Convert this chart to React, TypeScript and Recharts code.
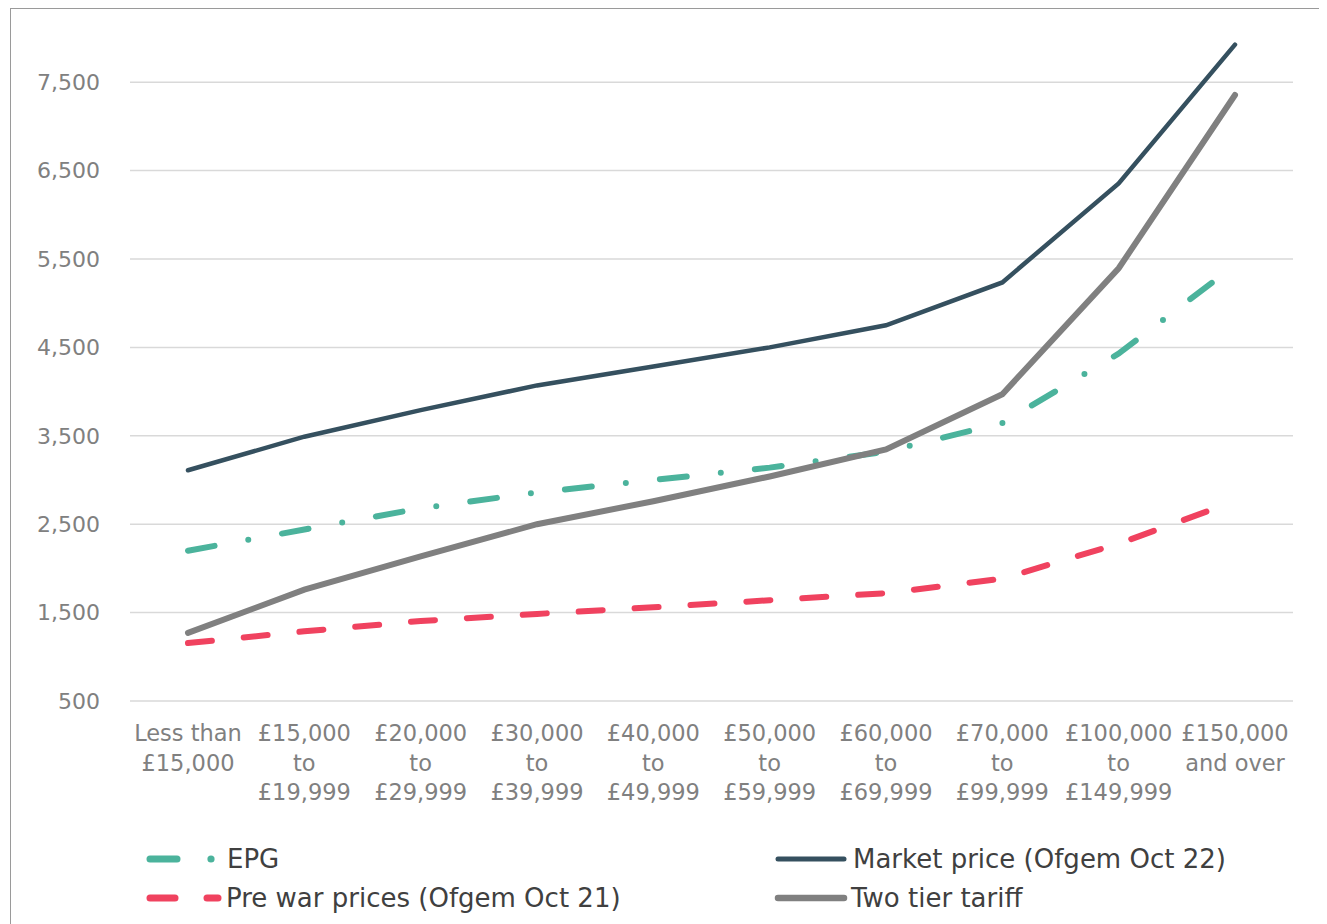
import { LineChart, Line, XAxis, YAxis, CartesianGrid } from 'recharts';

const categories = [
  'Less than\n£15,000',
  '£15,000\nto\n£19,999',
  '£20,000\nto\n£29,999',
  '£30,000\nto\n£39,999',
  '£40,000\nto\n£49,999',
  '£50,000\nto\n£59,999',
  '£60,000\nto\n£69,999',
  '£70,000\nto\n£99,999',
  '£100,000\nto\n£149,999',
  '£150,000\nand over',
];

const epg = [2200, 2440, 2680, 2860, 3000, 3140, 3320, 3645, 4430, 5430];
const marketPrice = [3110, 3490, 3790, 4070, 4285, 4500, 4750, 5235, 6355, 7925];
const preWar = [1155, 1288, 1405, 1485, 1560, 1640, 1720, 1884, 2280, 2760];
const twoTier = [1270, 1760, 2135, 2500, 2760, 3040, 3345, 3970, 5395, 7355];

const yTicks = [500, 1500, 2500, 3500, 4500, 5500, 6500, 7500];

const FONT = '"DejaVu Sans", sans-serif';
const TEAL = '#4bb39c';
const SLATE = '#35505f';
const RED = '#f0425f';
const GREY = '#808080';

const rows = categories.map((c, i) => ({
  cat: c,
  epg: epg[i],
  market: marketPrice[i],
  preWar: preWar[i],
  twoTier: twoTier[i],
}));

function CatTick(props: any) {
  const { x, y, payload } = props;
  const lines = String(payload.value).split('\n');
  return (
    <text x={x} y={y} textAnchor="middle" fill="#808080" fontSize={22.5} fontFamily={FONT}>
      {lines.map((l, i) => (
        <tspan key={i} x={x} dy={i === 0 ? 40 : 29.5}>
          {l}
        </tspan>
      ))}
    </text>
  );
}

function LegendKey() {
  const txt = { fontSize: 26, fontFamily: FONT, fill: '#404040' };
  return (
    <svg width={1319} height={100} style={{ position: 'absolute', left: 0, top: 816 }}>
      {/* EPG */}
      <line x1={142} y1={35} x2={169} y2={35} stroke={TEAL} strokeWidth={7} strokeLinecap="round" />
      <circle cx={203} cy={35} r={3.6} fill={TEAL} />
      <text x={219} y={35} dy="0.36em" {...txt}>EPG</text>
      {/* Pre war */}
      <line x1={142} y1={74} x2={167} y2={74} stroke={RED} strokeWidth={7} strokeLinecap="round" />
      <line x1={199} y1={74} x2={210} y2={74} stroke={RED} strokeWidth={7} strokeLinecap="round" />
      <text x={218} y={74} dy="0.36em" {...txt}>Pre war prices (Ofgem Oct 21)</text>
      {/* Market */}
      <line x1={770} y1={35} x2={836} y2={35} stroke={SLATE} strokeWidth={5} strokeLinecap="round" />
      <text x={845} y={35} dy="0.36em" {...txt}>Market price (Ofgem Oct 22)</text>
      {/* Two tier */}
      <line x1={770} y1={74} x2={836} y2={74} stroke={GREY} strokeWidth={6.5} strokeLinecap="round" />
      <text x={843} y={74} dy="0.36em" {...txt}>Two tier tariff</text>
    </svg>
  );
}

export default function App() {
  return (
    <div style={{ position: 'relative', width: 1319, height: 916 }}>
      <div
        style={{
          position: 'absolute',
          left: 2,
          top: 0,
          width: 1311,
          height: 940,
          border: '1.5px solid #9a9a9a',
          boxSizing: 'border-box',
        }}
      />
      <div style={{ position: 'absolute', left: 0, top: 0 }}>
        <LineChart width={1300} height={840} data={rows} margin={{ top: 30, right: 15, bottom: 37, left: 0 }}>
          <CartesianGrid vertical={false} horizontalValues={yTicks} stroke="#d9d9d9" strokeWidth={1.5} />
          <XAxis
            dataKey="cat"
            interval={0}
            height={110}
            axisLine={false}
            tickLine={false}
            tickSize={0}
            tickMargin={0}
            padding={{ left: 58, right: 58 }}
            tick={<CatTick />}
          />
          <YAxis
            width={122}
            domain={[500, 8000]}
            ticks={yTicks}
            type="number"
            allowDataOverflow
            axisLine={false}
            tickLine={false}
            tickSize={0}
            tickMargin={30}
            tick={{ fontSize: 22, fill: '#808080', fontFamily: FONT }}
            tickFormatter={(v: number) => v.toLocaleString('en-GB')}
          />
          <Line
            type="linear"
            dataKey="epg"
            stroke={TEAL}
            strokeWidth={6}
            strokeLinecap="round"
            strokeDasharray="27 34.25 0 34.25"
            dot={false}
            activeDot={false}
            isAnimationActive={false}
          />
          <Line
            type="linear"
            dataKey="market"
            stroke={SLATE}
            strokeWidth={4.5}
            strokeLinecap="round"
            dot={false}
            activeDot={false}
            isAnimationActive={false}
          />
          <Line
            type="linear"
            dataKey="preWar"
            stroke={RED}
            strokeWidth={6}
            strokeLinecap="round"
            strokeDasharray="24 32"
            dot={false}
            activeDot={false}
            isAnimationActive={false}
          />
          <Line
            type="linear"
            dataKey="twoTier"
            stroke={GREY}
            strokeWidth={6}
            strokeLinecap="round"
            dot={false}
            activeDot={false}
            isAnimationActive={false}
          />
        </LineChart>
      </div>
      <LegendKey />
    </div>
  );
}
